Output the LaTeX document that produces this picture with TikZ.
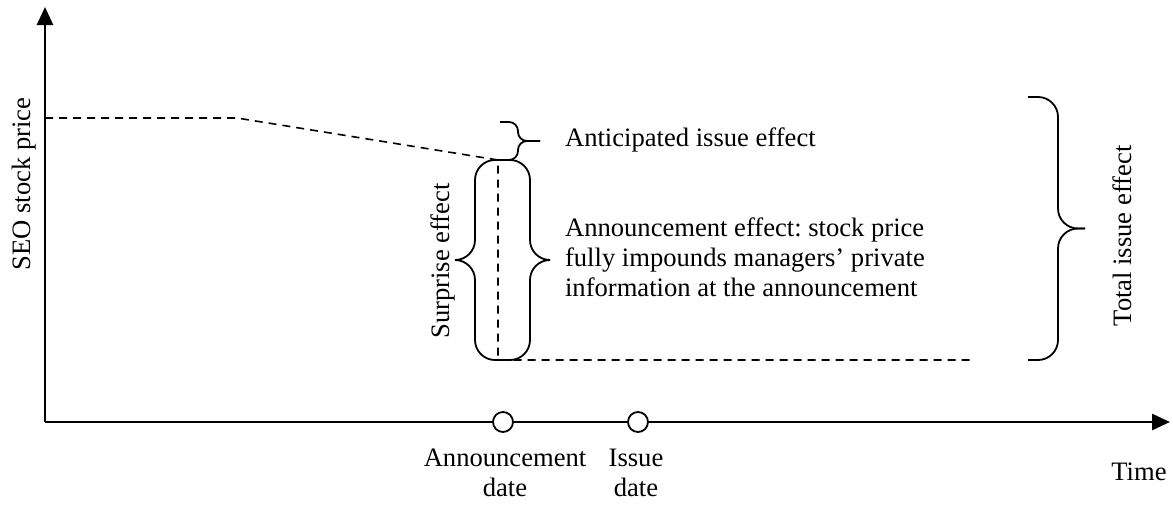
\documentclass[tikz,border=0pt]{standalone}
\usepackage{fontspec}
\setmainfont{Liberation Serif}
\usetikzlibrary{arrows.meta}
\frenchspacing

% vertical curly brace: x, top y, bottom y, spine x, tip x, corner radius
\newcommand{\curlybrace}[6]{%
	\pgfmathsetmacro{\bmid}{(#2+#3)/2}
	\draw[curly, rounded corners=#6] (#1,#2) -- (#4,#2) -- (#4,\bmid) -- (#5,\bmid);
	\draw[curly, rounded corners=#6] (#5,\bmid) -- (#4,\bmid) -- (#4,#3) -- (#1,#3);}

\begin{document}
\begin{tikzpicture}[x=0.5pt, y=-0.5pt, font=\fontsize{13.3pt}{15pt}\selectfont,
	axis/.style={line width=1.4pt, -{Triangle[width=8pt,length=9pt]}},
	price/.style={line width=0.8pt, dash pattern=on 4pt off 3pt},
	curly/.style={line width=0.9pt},
	datemark/.style={circle, draw, line width=0.9pt, fill=white, minimum size=10pt, inner sep=0pt}]
	\useasboundingbox (0,0) rectangle (1173,504);
	% axes
	\coordinate (O) at (45,422);
	\coordinate (Ytop) at (45,7);
	\coordinate (Xend) at (1170,422);
	\draw[axis] (O) -- (Ytop);
	\draw[axis] (O) -- (Xend);
	% price path
	\coordinate (P0) at (45,118);
	\coordinate (P1) at (237,118);
	\coordinate (P2) at (498,160);
	\coordinate (P3) at (498,360);
	\coordinate (P4) at (973,360);
	\draw[price] (P0) -- (P1) -- (P2) -- (P3) -- (P4);
	% dates
	\node[datemark] (ann) at (503,422) {};
	\node[datemark] (iss) at (638,422) {};
	\node[align=center] (annlab) at (505,473) {Announcement\\date};
	\node[align=center] (isslab) at (636,473) {Issue\\date};
	\node (time) at (1139,472) {Time};
	\node[rotate=90] (ylab) at (24,184) {SEO stock price};
	% braces
	\curlybrace{500}{122}{160}{518}{540}{4.5pt}
	\curlybrace{498}{160}{360}{475}{455}{10pt}
	\curlybrace{498}{160}{360}{530}{548}{10pt}
	\curlybrace{1028}{97}{360}{1058}{1085}{10pt}
	% effect labels
	\node[anchor=west] (antlab) at (558,140) {Anticipated issue effect};
	\node[anchor=west, align=left] (annfx) at (558,257) {Announcement effect: stock price\\fully impounds managers’ private\\information at the announcement};
	\node[rotate=90] (surlab) at (443,261) {Surprise effect};
	\node[rotate=90] (totlab) at (1122,236) {Total issue effect};
\end{tikzpicture}
\end{document}
